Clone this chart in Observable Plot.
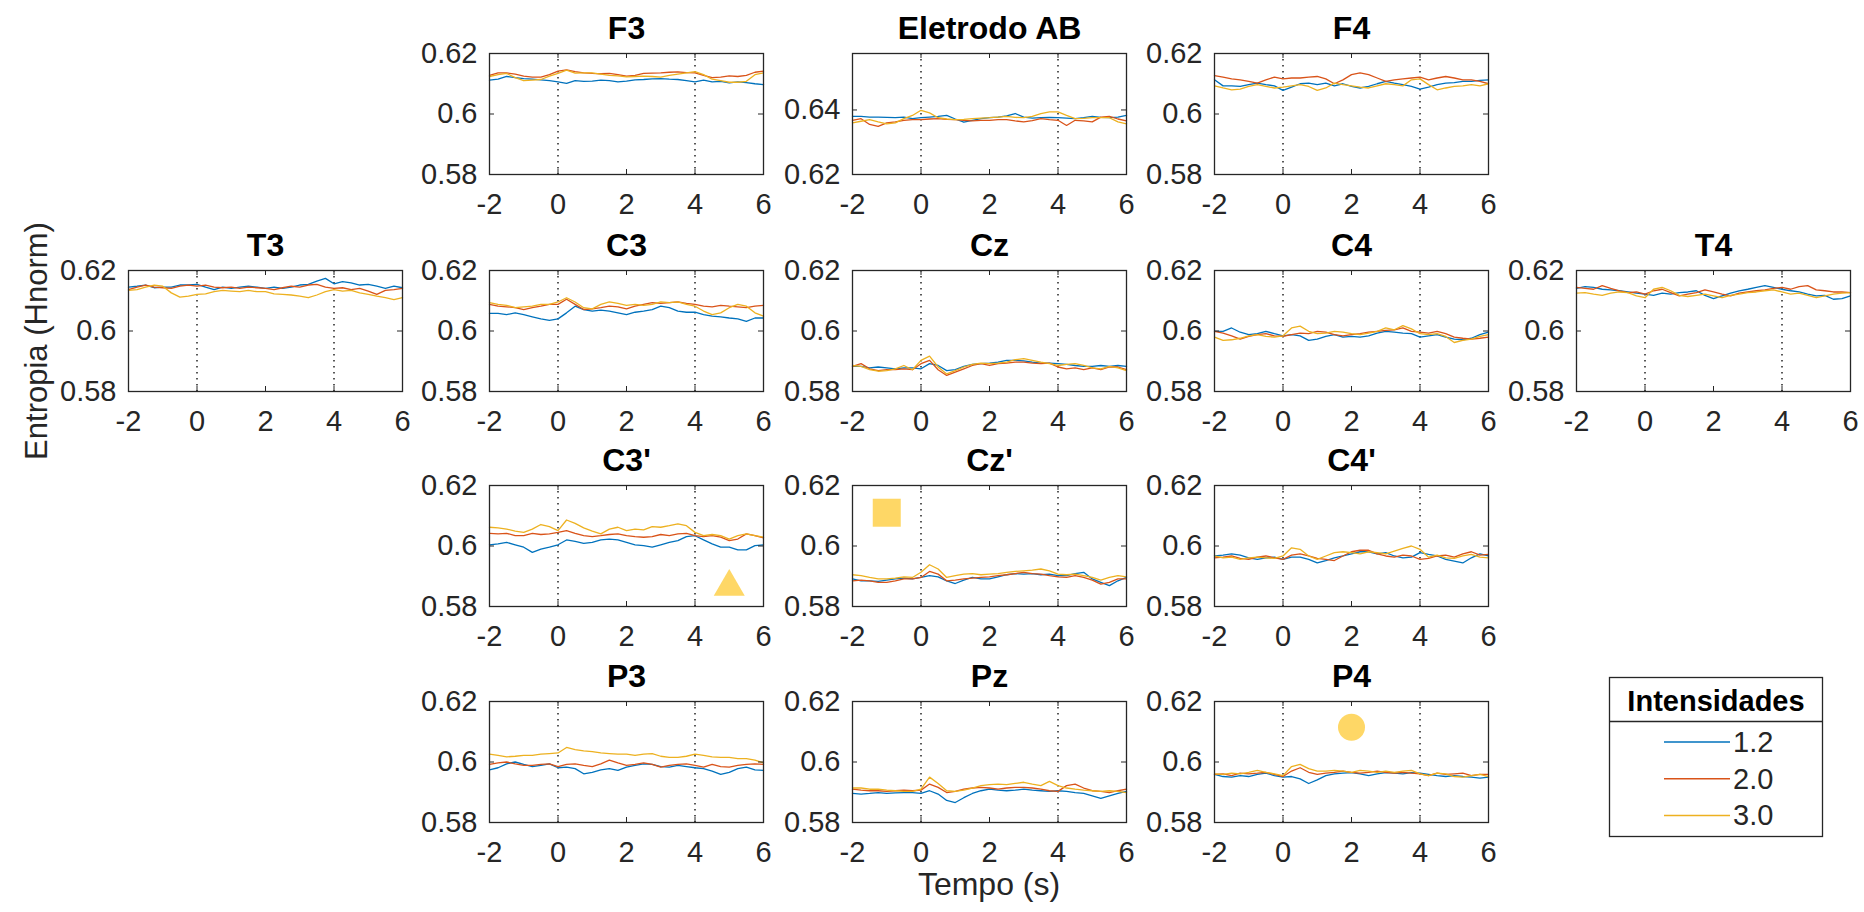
<!DOCTYPE html>
<html><head><meta charset="utf-8">
<script src="https://cdn.jsdelivr.net/npm/d3@7"></script>
<script src="https://cdn.jsdelivr.net/npm/@observablehq/plot@0.6"></script>
<style>
body{margin:0;background:#fff;}
#fig{position:relative;width:1864px;height:912px;overflow:hidden;background:#fff;font-family:"Liberation Sans",Arial,Helvetica,sans-serif;}
</style></head><body><div id="fig"></div>
<script>
// ---- data ----
const tempo = [-2,-1.75,-1.5,-1.25,-1,-0.75,-0.5,-0.25,0,0.25,0.5,0.75,1,1.25,1.5,1.75,2,2.25,2.5,2.75,3,3.25,3.5,3.75,4,4.25,4.5,4.75,5,5.25,5.5,5.75,6];
const intensidades = ["1.2","2.0","3.0"];
const cores = ["#0072BD","#D95319","#EDB120"];
const xTicks = [-2,0,2,4,6];
const yTicksStd = [0.58,0.6,0.62];
const yTicksAB = [0.62,0.64];
const marcosTempo = [0,4];

const F3_12 = [.6112,.6115,.6124,.6120,.6117,.6115,.6113,.6110,.6106,.6101,.6110,.6108,.6109,.6112,.6110,.6106,.6109,.6113,.6114,.6116,.6117,.6115,.6114,.6110,.6106,.6112,.6106,.6108,.6103,.6106,.6104,.6100,.6097];
const F3_20 = [.6128,.6136,.6136,.6132,.6125,.6122,.6122,.6130,.6142,.6146,.6140,.6136,.6134,.6133,.6134,.6130,.6125,.6128,.6134,.6135,.6136,.6138,.6139,.6137,.6136,.6128,.6120,.6122,.6126,.6124,.6128,.6138,.6142];
const F3_30 = [.6124,.6130,.6134,.6120,.6110,.6112,.6114,.6125,.6134,.6145,.6135,.6136,.6136,.6132,.6128,.6126,.6123,.6124,.6125,.6124,.6122,.6128,.6132,.6136,.6140,.6130,.6115,.6110,.6105,.6105,.6108,.6130,.6136];

const AB_12 = [.6380,.6380,.6378,.6378,.6377,.6376,.6378,.6373,.6376,.6378,.6380,.6383,.6372,.6362,.6368,.6373,.6376,.6378,.6382,.6389,.6378,.6375,.6376,.6377,.6376,.6375,.6373,.6376,.6380,.6377,.6376,.6378,.6383];
const AB_20 = [.6368,.6373,.6355,.6349,.6360,.6363,.6368,.6370,.6370,.6372,.6373,.6371,.6370,.6368,.6366,.6368,.6368,.6370,.6370,.6366,.6363,.6367,.6373,.6370,.6368,.6352,.6368,.6366,.6363,.6378,.6380,.6372,.6366];
const AB_30 = [.6360,.6365,.6370,.6363,.6357,.6360,.6373,.6383,.6399,.6391,.6376,.6372,.6370,.6371,.6373,.6375,.6376,.6378,.6380,.6377,.6376,.6380,.6389,.6394,.6394,.6383,.6373,.6374,.6376,.6376,.6376,.6363,.6357];

const F4_12 = [.6113,.6093,.6093,.6091,.6097,.6102,.6097,.6093,.6078,.6089,.6100,.6102,.6097,.6102,.6093,.6100,.6091,.6086,.6091,.6100,.6108,.6102,.6097,.6091,.6082,.6089,.6097,.6102,.6104,.6108,.6108,.6111,.6113];
const F4_20 = [.6127,.6122,.6116,.6113,.6108,.6102,.6113,.6122,.6116,.6119,.6119,.6122,.6124,.6116,.6100,.6113,.6130,.6136,.6130,.6119,.6108,.6113,.6116,.6119,.6122,.6113,.6119,.6124,.6119,.6113,.6113,.6108,.6100];
const F4_30 = [.6093,.6086,.6080,.6082,.6091,.6097,.6091,.6086,.6089,.6093,.6097,.6091,.6078,.6086,.6102,.6097,.6093,.6089,.6086,.6093,.6100,.6097,.6093,.6113,.6116,.6097,.6080,.6086,.6091,.6093,.6097,.6093,.6100];

const T3_12 = [.6145,.6148,.6152,.6143,.6145,.6145,.6152,.6152,.6154,.6145,.6137,.6145,.6141,.6145,.6148,.6145,.6141,.6145,.6141,.6145,.6152,.6154,.6165,.6174,.6156,.6163,.6159,.6152,.6154,.6148,.6141,.6148,.6143];
const T3_20 = [.6137,.6145,.6152,.6145,.6143,.6141,.6148,.6152,.6148,.6152,.6145,.6143,.6145,.6141,.6145,.6143,.6141,.6137,.6143,.6148,.6145,.6152,.6154,.6145,.6141,.6143,.6137,.6141,.6132,.6121,.6134,.6137,.6141];
const T3_30 = [.6134,.6137,.6145,.6152,.6148,.6126,.6112,.6115,.6121,.6123,.6130,.6134,.6132,.6130,.6134,.6130,.6130,.6123,.6121,.6119,.6115,.6110,.6119,.6130,.6137,.6132,.6134,.6126,.6121,.6115,.6110,.6104,.6110];

const C3_12 = [.6058,.6058,.6054,.6060,.6054,.6047,.6040,.6035,.6040,.6060,.6082,.6071,.6066,.6069,.6066,.6060,.6054,.6062,.6066,.6071,.6082,.6077,.6066,.6062,.6062,.6054,.6049,.6047,.6043,.6040,.6032,.6043,.6043];
const C3_20 = [.6088,.6082,.6080,.6077,.6071,.6077,.6082,.6088,.6088,.6105,.6088,.6071,.6073,.6077,.6082,.6080,.6073,.6082,.6088,.6094,.6091,.6094,.6096,.6091,.6088,.6082,.6080,.6085,.6082,.6080,.6077,.6082,.6085];
const C3_30 = [.6094,.6088,.6085,.6077,.6080,.6082,.6088,.6088,.6096,.6110,.6096,.6077,.6073,.6088,.6096,.6091,.6085,.6088,.6085,.6088,.6096,.6094,.6096,.6088,.6082,.6066,.6054,.6060,.6077,.6088,.6082,.6060,.6049];

const Cz_12 = [.5883,.5883,.5878,.5881,.5878,.5875,.5878,.5878,.5875,.5892,.5886,.5869,.5872,.5883,.5890,.5892,.5894,.5897,.5903,.5903,.5901,.5897,.5894,.5894,.5892,.5890,.5886,.5883,.5883,.5886,.5883,.5886,.5883];
const Cz_20 = [.5883,.5892,.5875,.5869,.5872,.5872,.5875,.5872,.5892,.5903,.5872,.5853,.5864,.5875,.5886,.5892,.5886,.5892,.5894,.5897,.5897,.5894,.5892,.5894,.5881,.5875,.5878,.5872,.5878,.5872,.5881,.5881,.5872];
const Cz_30 = [.5886,.5883,.5872,.5867,.5869,.5875,.5886,.5872,.5903,.5917,.5881,.5858,.5869,.5881,.5890,.5894,.5892,.5894,.5897,.5905,.5909,.5903,.5897,.5892,.5886,.5890,.5892,.5886,.5878,.5875,.5883,.5878,.5869];

const C4_12 = [.5999,.5999,.6010,.5996,.5988,.5991,.5999,.5991,.5984,.5988,.5984,.5969,.5973,.5982,.5988,.5980,.5982,.5980,.5984,.5993,.5999,.5996,.5993,.5991,.5980,.5984,.5988,.5980,.5973,.5971,.5976,.5988,.5996];
const C4_20 = [.5999,.5993,.5984,.5973,.5982,.5988,.5991,.5984,.5982,.5988,.5993,.5991,.5999,.5996,.5988,.5984,.5988,.5991,.5996,.5999,.6002,.6004,.6010,.5999,.5996,.5993,.5999,.5991,.5980,.5976,.5973,.5976,.5980];
const C4_30 = [.5980,.5969,.5971,.5976,.5984,.5988,.5982,.5980,.5984,.6010,.6016,.5999,.5991,.5993,.5999,.5996,.5991,.5988,.5993,.5999,.6010,.6004,.6018,.6007,.5991,.5988,.5991,.5982,.5962,.5969,.5973,.5982,.5988];

const T4_12 = [.6141,.6147,.6144,.6138,.6136,.6133,.6129,.6125,.6122,.6118,.6125,.6122,.6127,.6129,.6133,.6118,.6107,.6116,.6125,.6133,.6138,.6144,.6150,.6144,.6138,.6133,.6129,.6122,.6116,.6118,.6105,.6107,.6116];
const T4_20 = [.6144,.6141,.6138,.6150,.6141,.6133,.6127,.6129,.6122,.6133,.6138,.6127,.6116,.6122,.6127,.6136,.6129,.6122,.6116,.6125,.6129,.6133,.6136,.6141,.6144,.6138,.6147,.6150,.6136,.6133,.6129,.6129,.6127];
const T4_30 = [.6125,.6127,.6122,.6118,.6125,.6129,.6127,.6116,.6110,.6138,.6144,.6133,.6118,.6114,.6118,.6122,.6116,.6110,.6118,.6122,.6127,.6129,.6133,.6136,.6129,.6122,.6125,.6118,.6110,.6116,.6122,.6125,.6127];

const C3p_12 = [.6004,.6007,.6012,.6004,.5996,.5979,.5990,.5996,.6004,.6020,.6015,.6009,.6012,.6020,.6023,.6020,.6012,.6004,.6001,.5996,.6004,.6012,.6018,.6031,.6034,.6020,.6007,.5996,.5996,.5987,.5987,.6001,.6004];
const C3p_20 = [.6042,.6040,.6042,.6034,.6034,.6042,.6038,.6040,.6045,.6051,.6042,.6034,.6031,.6034,.6038,.6040,.6034,.6031,.6029,.6031,.6038,.6034,.6040,.6042,.6034,.6031,.6034,.6029,.6018,.6023,.6040,.6034,.6027];
const C3p_30 = [.6062,.6060,.6056,.6049,.6045,.6056,.6071,.6064,.6051,.6086,.6075,.6060,.6049,.6040,.6056,.6062,.6051,.6056,.6053,.6064,.6062,.6067,.6073,.6067,.6045,.6034,.6038,.6034,.6023,.6034,.6040,.6034,.6029];

const Czp_12 = [.5891,.5885,.5885,.5883,.5887,.5891,.5894,.5891,.5896,.5902,.5898,.5885,.5876,.5887,.5896,.5891,.5891,.5898,.5905,.5909,.5907,.5909,.5905,.5907,.5902,.5902,.5909,.5913,.5891,.5880,.5869,.5885,.5896];
const Czp_20 = [.5885,.5887,.5885,.5880,.5880,.5885,.5891,.5891,.5896,.5916,.5907,.5885,.5887,.5891,.5894,.5896,.5898,.5902,.5905,.5909,.5913,.5909,.5907,.5902,.5898,.5896,.5902,.5896,.5887,.5874,.5880,.5891,.5891];
const Czp_30 = [.5905,.5902,.5896,.5891,.5891,.5894,.5898,.5896,.5913,.5938,.5924,.5896,.5902,.5907,.5909,.5905,.5907,.5909,.5913,.5916,.5918,.5920,.5924,.5918,.5907,.5905,.5907,.5902,.5896,.5887,.5896,.5902,.5898];

const C4p_12 = [.5967,.5970,.5974,.5970,.5961,.5956,.5961,.5963,.5956,.5963,.5963,.5956,.5944,.5952,.5961,.5967,.5974,.5981,.5981,.5974,.5978,.5967,.5961,.5963,.5978,.5972,.5967,.5956,.5950,.5944,.5961,.5974,.5967];
const C4p_20 = [.5961,.5963,.5967,.5959,.5956,.5963,.5967,.5961,.5956,.5970,.5974,.5967,.5959,.5956,.5952,.5967,.5981,.5986,.5986,.5974,.5967,.5963,.5970,.5967,.5956,.5959,.5967,.5970,.5963,.5974,.5981,.5970,.5972];
const C4p_30 = [.5967,.5961,.5963,.5956,.5961,.5963,.5961,.5959,.5967,.5994,.5989,.5967,.5956,.5967,.5978,.5981,.5978,.5974,.5981,.5978,.5974,.5983,.5992,.6000,.5989,.5963,.5970,.5961,.5959,.5967,.5972,.5963,.5961];

const P3_12 = [.5974,.5981,.5994,.6000,.5992,.5985,.5989,.5994,.5981,.5983,.5978,.5961,.5966,.5974,.5978,.5972,.5983,.5989,.5994,.5992,.5985,.5983,.5989,.5985,.5981,.5978,.5970,.5959,.5966,.5978,.5983,.5974,.5972];
const P3_20 = [.5992,.5997,.6000,.5994,.5989,.5989,.5992,.5994,.5985,.5992,.5994,.5989,.5985,.5994,.6006,.5997,.5989,.5992,.5997,.5992,.5983,.5989,.5992,.5994,.5989,.5983,.5992,.5985,.5983,.5989,.5992,.5994,.5992];
const P3_30 = [.6026,.6022,.6017,.6019,.6022,.6022,.6026,.6028,.6030,.6048,.6041,.6037,.6034,.6030,.6028,.6026,.6026,.6022,.6026,.6028,.6019,.6015,.6015,.6019,.6026,.6022,.6017,.6015,.6015,.6011,.6011,.6006,.5997];

const Pz_12 = [.5896,.5894,.5896,.5899,.5896,.5898,.5899,.5899,.5896,.5905,.5894,.5873,.5866,.5882,.5896,.5905,.5910,.5907,.5905,.5907,.5910,.5907,.5905,.5903,.5905,.5903,.5899,.5896,.5888,.5880,.5888,.5896,.5903];
const Pz_20 = [.5910,.5907,.5905,.5905,.5903,.5905,.5907,.5905,.5907,.5927,.5916,.5899,.5903,.5910,.5914,.5916,.5914,.5910,.5914,.5916,.5916,.5914,.5910,.5905,.5903,.5922,.5927,.5914,.5905,.5903,.5899,.5905,.5910];
const Pz_30 = [.5914,.5914,.5910,.5910,.5907,.5905,.5903,.5903,.5910,.5950,.5929,.5905,.5903,.5907,.5914,.5922,.5925,.5927,.5925,.5929,.5933,.5927,.5922,.5936,.5922,.5914,.5910,.5907,.5905,.5903,.5905,.5903,.5899];

const P4_12 = [.5959,.5952,.5950,.5955,.5952,.5959,.5963,.5955,.5950,.5952,.5944,.5929,.5941,.5955,.5961,.5963,.5965,.5961,.5955,.5961,.5965,.5963,.5961,.5965,.5963,.5959,.5955,.5952,.5955,.5952,.5950,.5947,.5950];
const P4_20 = [.5959,.5961,.5955,.5963,.5961,.5963,.5966,.5959,.5952,.5970,.5981,.5966,.5959,.5963,.5966,.5970,.5966,.5963,.5966,.5970,.5966,.5963,.5966,.5963,.5961,.5955,.5963,.5959,.5961,.5963,.5955,.5959,.5959];
const P4_30 = [.5961,.5959,.5963,.5961,.5966,.5972,.5966,.5961,.5955,.5985,.5992,.5978,.5970,.5970,.5972,.5970,.5966,.5972,.5970,.5966,.5970,.5966,.5970,.5972,.5961,.5955,.5963,.5961,.5952,.5950,.5955,.5959,.5952];

// markers drawn in three panels
const marcadores = [
  {painel:"C3'", x:5, y:0.5865, simbolo:"triangle"},
  {painel:"Cz'", x:-1, y:0.611, simbolo:"square"},
  {painel:"P4", x:2, y:0.6115, simbolo:"circle"}
];

const paineis = [
  {titulo:"F3", col:1, lin:0, s:[F3_12,F3_20,F3_30]},
  {titulo:"Eletrodo AB", col:2, lin:0, s:[AB_12,AB_20,AB_30], dom:[0.62,0.6575], ticks:yTicksAB},
  {titulo:"F4", col:3, lin:0, s:[F4_12,F4_20,F4_30]},
  {titulo:"T3", col:0, lin:1, s:[T3_12,T3_20,T3_30]},
  {titulo:"C3", col:1, lin:1, s:[C3_12,C3_20,C3_30]},
  {titulo:"Cz", col:2, lin:1, s:[Cz_12,Cz_20,Cz_30]},
  {titulo:"C4", col:3, lin:1, s:[C4_12,C4_20,C4_30]},
  {titulo:"T4", col:4, lin:1, s:[T4_12,T4_20,T4_30]},
  {titulo:"C3'", col:1, lin:2, s:[C3p_12,C3p_20,C3p_30]},
  {titulo:"Cz'", col:2, lin:2, s:[Czp_12,Czp_20,Czp_30]},
  {titulo:"C4'", col:3, lin:2, s:[C4p_12,C4p_20,C4p_30]},
  {titulo:"P3", col:1, lin:3, s:[P3_12,P3_20,P3_30]},
  {titulo:"Pz", col:2, lin:3, s:[Pz_12,Pz_20,Pz_30]},
  {titulo:"P4", col:3, lin:3, s:[P4_12,P4_20,P4_30]}
];

// ---- layout ----
const colLeft = [128, 489, 852, 1214, 1576];
const rowTop = [53, 270, 485, 701];
const W = 274, H = 121, ML = 95, MR = 15, MT = 55, MB = 50;
const fonte = "'Liberation Sans', Arial, Helvetica, sans-serif";
const tinta = "#262626";
const fig = document.getElementById("fig");

for (const p of paineis) {
  const rows = [];
  p.s.forEach((arr, k) => arr.forEach((v, i) => rows.push({t: tempo[i], v, g: intensidades[k]})));
  const ticks = p.ticks || yTicksStd;
  const dom = p.dom || [0.58, 0.62];
  const mk = marcadores.filter(m => m.painel === p.titulo);
  const chart = Plot.plot({
    width: W + ML + MR, height: H + MT + MB,
    marginLeft: ML, marginRight: MR, marginTop: MT, marginBottom: MB,
    style: {fontFamily: fonte, overflow: "visible", background: "transparent"},
    x: {domain: [-2, 6]},
    y: {domain: dom},
    color: {domain: intensidades, range: cores},
    marks: [
      Plot.ruleX(marcosTempo, {stroke: "#000", strokeWidth: 1.3, strokeDasharray: "1.4,4.6"}),
      Plot.line(rows, {x: "t", y: "v", z: "g", stroke: "g", strokeWidth: 1.3}),
      ...mk.map(m => Plot.dot([m], {x: "x", y: "y", symbol: m.simbolo, r: m.simbolo === "square" ? 15.8 : m.simbolo === "circle" ? 13.5 : 11.5, fill: "#FED766", stroke: "none"})),
      Plot.ruleX(xTicks, {stroke: tinta, strokeWidth: 1, insetTop: H - 5}),
      Plot.ruleX(xTicks, {stroke: tinta, strokeWidth: 1, insetBottom: H - 5}),
      Plot.ruleY(ticks, {stroke: tinta, strokeWidth: 1, insetRight: W - 5}),
      Plot.ruleY(ticks, {stroke: tinta, strokeWidth: 1, insetLeft: W - 5}),
      Plot.frame({stroke: tinta, strokeWidth: 1.3}),
      Plot.axisX(xTicks, {tickSize: 0, tickPadding: 19, fontSize: 29, fill: tinta, label: null, tickFormat: d => String(d)}),
      Plot.axisY(ticks, {tickSize: 0, tickPadding: 12, fontSize: 29, fill: tinta, label: null, tickFormat: d => String(d)}),
      Plot.text([p.titulo], {text: d => d, frameAnchor: "top", dy: -15, lineAnchor: "bottom", fontSize: 32, fontWeight: "bold", fill: "#000"})
    ]
  });
  chart.style.position = "absolute";
  chart.style.left = (colLeft[p.col] - ML) + "px";
  chart.style.top = (rowTop[p.lin] - MT) + "px";
  chart.style.maxWidth = "none";
  fig.appendChild(chart);
}

// ---- shared labels and legend ----
const ov = d3.create("svg").attr("width", 1864).attr("height", 912)
  .style("position", "absolute").style("left", "0px").style("top", "0px")
  .style("font-family", fonte).style("pointer-events", "none");
ov.append("text").attr("transform", "translate(36,341) rotate(-90)")
  .attr("text-anchor", "middle").attr("dominant-baseline", "central")
  .attr("font-size", 31).attr("fill", tinta).text("Entropia (Hnorm)");
ov.append("text").attr("x", 989).attr("y", 895).attr("text-anchor", "middle")
  .attr("font-size", 32).attr("fill", tinta).text("Tempo (s)");
const L = {x: 1609.5, y: 677.5, w: 213, h: 159, sep: 721.5};
ov.append("rect").attr("x", L.x).attr("y", L.y).attr("width", L.w).attr("height", L.h)
  .attr("fill", "#fff").attr("stroke", tinta).attr("stroke-width", 1.3);
ov.append("line").attr("x1", L.x).attr("x2", L.x + L.w).attr("y1", L.sep).attr("y2", L.sep)
  .attr("stroke", tinta).attr("stroke-width", 1.3);
ov.append("text").attr("x", L.x + L.w / 2).attr("y", 711).attr("text-anchor", "middle")
  .attr("font-size", 29).attr("font-weight", "bold").attr("fill", "#000").text("Intensidades");
intensidades.forEach((lab, i) => {
  const yy = 742 + i * 36.7;
  ov.append("line").attr("x1", 1664).attr("x2", 1730).attr("y1", yy).attr("y2", yy)
    .attr("stroke", cores[i]).attr("stroke-width", 1.5);
  ov.append("text").attr("x", 1733).attr("y", yy).attr("dominant-baseline", "central")
    .attr("font-size", 29).attr("fill", tinta).text(lab);
});
fig.appendChild(ov.node());
</script>
</body></html>
